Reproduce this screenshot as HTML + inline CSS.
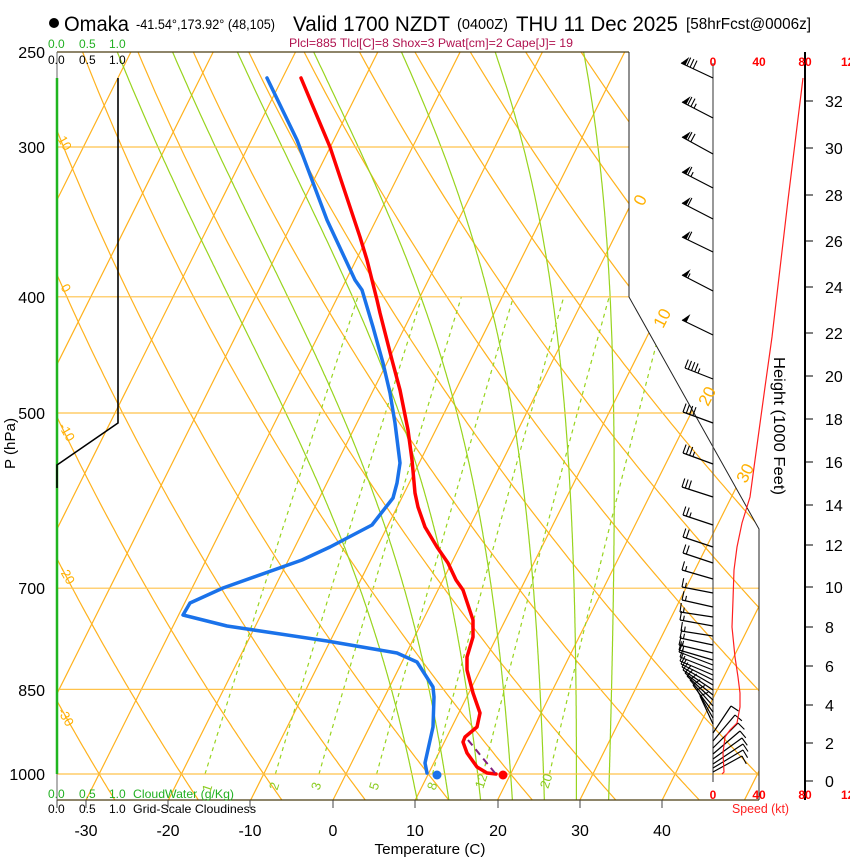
<!DOCTYPE html>
<html>
<head>
<meta charset="utf-8">
<style>
html,body{margin:0;padding:0;background:#fff;}
svg{display:block;}
text{font-family:"Liberation Sans",Arial,sans-serif;}
</style>
</head>
<body>
<svg id="s" width="850" height="860" viewBox="0 0 850 860" xmlns="http://www.w3.org/2000/svg">
<defs>
<clipPath id="c"><polygon points="57,52 629,52 629,297 759,529 759,800 57,800"/></clipPath>
</defs>
<rect width="850" height="860" fill="#fff"/>
<g id="grid" clip-path="url(#c)" fill="none"></g>

<!-- frame -->
<line x1="57" y1="52" x2="629" y2="52" stroke="#4a3c10" stroke-width="1.3"/>
<line x1="57" y1="800" x2="759" y2="800" stroke="#4a3c10" stroke-width="1.3"/>
<line x1="57" y1="52" x2="57" y2="800" stroke="#666" stroke-width="1"/>
<polyline points="629,52 629,297 759,529 759,800" fill="none" stroke="#222" stroke-width="1"/>
<line x1="713" y1="63" x2="713" y2="782" stroke="#555" stroke-width="1.2"/>
<line x1="805" y1="52" x2="805" y2="800" stroke="#000" stroke-width="2"/>

<!-- cloud water / cloudiness -->
<line x1="57" y1="78" x2="57" y2="774" stroke="#1fb51f" stroke-width="2.5"/>
<polyline points="118,78 118,423 57,465 57,488" fill="none" stroke="#000" stroke-width="1.6"/>

<!-- bottom ticks -->
<g stroke="#444" stroke-width="1">
<line x1="57" y1="800" x2="57" y2="808"/><line x1="86" y1="800" x2="86" y2="808"/>
<line x1="168" y1="800" x2="168" y2="808"/><line x1="250" y1="800" x2="250" y2="808"/>
<line x1="333" y1="800" x2="333" y2="808"/><line x1="415" y1="800" x2="415" y2="808"/>
<line x1="498" y1="800" x2="498" y2="808"/><line x1="580" y1="800" x2="580" y2="808"/>
<line x1="662" y1="800" x2="662" y2="808"/>
</g>

<!-- height ticks -->
<g stroke="#000" stroke-width="1">
<line x1="805" y1="101" x2="813" y2="101"/><line x1="805" y1="148" x2="813" y2="148"/>
<line x1="805" y1="195" x2="813" y2="195"/><line x1="805" y1="241" x2="813" y2="241"/>
<line x1="805" y1="287" x2="813" y2="287"/><line x1="805" y1="333" x2="813" y2="333"/>
<line x1="805" y1="376" x2="813" y2="376"/><line x1="805" y1="419" x2="813" y2="419"/>
<line x1="805" y1="462" x2="813" y2="462"/><line x1="805" y1="505" x2="813" y2="505"/>
<line x1="805" y1="545" x2="813" y2="545"/><line x1="805" y1="587" x2="813" y2="587"/>
<line x1="805" y1="627" x2="813" y2="627"/><line x1="805" y1="666" x2="813" y2="666"/>
<line x1="805" y1="705" x2="813" y2="705"/><line x1="805" y1="743" x2="813" y2="743"/>
<line x1="805" y1="781" x2="813" y2="781"/>
</g>

<!-- wind barbs -->
<g id="barbs"></g>

<!-- speed line -->
<polyline points="803,78 788,200 772,337 765,387 755,460 750,497 742,523 737,547 734,570 733,600 732,627 735,657 738,677 740,693 740,707 737,723 730,730 725,737 723,753 724,772 722,774" fill="none" stroke="#ff2020" stroke-width="1.2"/>

<!-- profiles -->
<polyline points="267,78 297,140 327,220 355,280 362,290 373,327 383,363 390,393 395,423 398,447 400,463 397,483 393,498 372,525 330,547 302,560 223,588 190,603 183,615 227,626 327,641 397,653 417,662 433,687 434,697 433,727 425,763 427,773" fill="none" stroke="#1a72ea" stroke-width="3.5" stroke-linejoin="round" stroke-linecap="round"/>
<polyline points="301,78 330,147 360,237 367,260 377,300 380,313 392,360 400,390 408,430 412,460 415,493 418,507 425,527 437,547 448,563 456,580 463,590 473,620 473,637 467,657 467,670 473,693 480,713 477,727 465,737 463,742 467,753 477,767 487,773 496,774" fill="none" stroke="#ff0000" stroke-width="3.5" stroke-linejoin="round" stroke-linecap="round"/>
<line x1="468" y1="740" x2="495" y2="773" stroke="#80207f" stroke-width="2" stroke-dasharray="7,5"/>
<circle cx="437" cy="775" r="4.5" fill="#1a72ea"/>
<circle cx="503" cy="775" r="4.5" fill="#ff0000"/>

<!-- title -->
<circle cx="54" cy="23" r="5" fill="#000"/>
<text x="64" y="31" font-size="21" textLength="65" lengthAdjust="spacingAndGlyphs">Omaka</text>
<text x="136" y="29" font-size="13.5" textLength="139" lengthAdjust="spacingAndGlyphs">-41.54°,173.92° (48,105)</text>
<text x="293" y="31" font-size="21" textLength="157" lengthAdjust="spacingAndGlyphs">Valid 1700 NZDT</text>
<text x="457" y="29" font-size="15" textLength="51" lengthAdjust="spacingAndGlyphs">(0400Z)</text>
<text x="516" y="31" font-size="21" textLength="162" lengthAdjust="spacingAndGlyphs">THU 11 Dec 2025</text>
<text x="686" y="29" font-size="16" textLength="125" lengthAdjust="spacingAndGlyphs">[58hrFcst@0006z]</text>
<text x="289" y="47" font-size="12" fill="#b0124f" textLength="284" lengthAdjust="spacingAndGlyphs">Plcl=885 Tlcl[C]=8 Shox=3 Pwat[cm]=2 Cape[J]= 19</text>

<!-- cloud axis labels -->
<g font-size="12" fill="#22b022">
<text x="48" y="48">0.0</text><text x="79" y="48">0.5</text><text x="109" y="48">1.0</text>
<text x="48" y="798">0.0</text><text x="79" y="798">0.5</text><text x="109" y="798">1.0</text>
<text x="133" y="798" textLength="101" lengthAdjust="spacingAndGlyphs">CloudWater (g/Kg)</text>
</g>
<g font-size="12" fill="#000">
<text x="48" y="64">0.0</text><text x="79" y="64">0.5</text><text x="109" y="64">1.0</text>
<text x="48" y="813">0.0</text><text x="79" y="813">0.5</text><text x="109" y="813">1.0</text>
<text x="133" y="813" textLength="123" lengthAdjust="spacingAndGlyphs">Grid-Scale Cloudiness</text>
</g>

<!-- pressure labels -->
<g font-size="16" text-anchor="end" fill="#000">
<text x="45" y="58">250</text><text x="45" y="153">300</text><text x="45" y="303">400</text>
<text x="45" y="419">500</text><text x="45" y="594">700</text><text x="45" y="696">850</text>
<text x="45" y="780">1000</text>
</g>
<text transform="translate(15,469) rotate(-90)" font-size="15" textLength="51" lengthAdjust="spacingAndGlyphs">P (hPa)</text>

<!-- temperature labels -->
<g font-size="16" text-anchor="middle" fill="#000">
<text x="86" y="836">-30</text><text x="168" y="836">-20</text><text x="250" y="836">-10</text>
<text x="333" y="836">0</text><text x="415" y="836">10</text><text x="498" y="836">20</text>
<text x="580" y="836">30</text><text x="662" y="836">40</text>
</g>
<text x="430" y="854" font-size="15" text-anchor="middle" textLength="111" lengthAdjust="spacingAndGlyphs">Temperature (C)</text>

<!-- height labels -->
<g font-size="16" fill="#000">
<text x="825" y="107">32</text><text x="825" y="154">30</text><text x="825" y="201">28</text>
<text x="825" y="247">26</text><text x="825" y="293">24</text><text x="825" y="339">22</text>
<text x="825" y="382">20</text><text x="825" y="425">18</text><text x="825" y="468">16</text>
<text x="825" y="511">14</text><text x="825" y="551">12</text><text x="825" y="593">10</text>
<text x="825" y="633">8</text><text x="825" y="672">6</text><text x="825" y="711">4</text>
<text x="825" y="749">2</text><text x="825" y="787">0</text>
</g>
<text transform="translate(774,357) rotate(90)" font-size="16" textLength="138" lengthAdjust="spacingAndGlyphs">Height (1000 Feet)</text>

<!-- speed labels -->
<g font-size="12" font-weight="bold" fill="#ff0000" text-anchor="middle">
<text x="713" y="66">0</text><text x="759" y="66">40</text><text x="805" y="66">80</text><text x="851" y="66">120</text>
<text x="713" y="799">0</text><text x="759" y="799">40</text><text x="805" y="799">80</text><text x="851" y="799">120</text>
</g>
<text x="732" y="813" font-size="12.5" fill="#ff2020" textLength="57" lengthAdjust="spacingAndGlyphs">Speed (kt)</text>

<!-- isotherm labels -->
<g font-size="17" fill="#ffb000" text-anchor="middle">
<text transform="translate(640,200) rotate(-63)" dy="0.35em">0</text>
<text transform="translate(662,318) rotate(-63)" dy="0.35em">10</text>
<text transform="translate(707,396) rotate(-63)" dy="0.35em">20</text>
<text transform="translate(745,473) rotate(-63)" dy="0.35em">30</text>
</g>
<!-- dry adiabat labels -->
<g font-size="13" fill="#ffb000" text-anchor="middle">
<text transform="translate(65,143) rotate(60)" dy="0.35em">10</text>
<text transform="translate(66,288) rotate(60)" dy="0.35em">0</text>
<text transform="translate(67,432) rotate(60)" dy="0.35em">-10</text>
<text transform="translate(67,575) rotate(60)" dy="0.35em">-20</text>
<text transform="translate(66,717) rotate(60)" dy="0.35em">-30</text>
</g>
<!-- mixing ratio labels -->
<g font-size="13" fill="#8ccc22" text-anchor="middle">
<text transform="translate(207,788) rotate(-72)" dy="0.35em">1</text>
<text transform="translate(274,786) rotate(-72)" dy="0.35em">2</text>
<text transform="translate(316,786) rotate(-72)" dy="0.35em">3</text>
<text transform="translate(374,786) rotate(-72)" dy="0.35em">5</text>
<text transform="translate(432,786) rotate(-72)" dy="0.35em">8</text>
<text transform="translate(481,781) rotate(-72)" dy="0.35em">12</text>
<text transform="translate(546,781) rotate(-72)" dy="0.35em">20</text>
</g>
</svg>

<script>
(function(){
var NS="http://www.w3.org/2000/svg";
var g=document.getElementById('grid');
function Y(p){return 774-520.8*Math.log(1000/p);}
function X(T,y){return 333+8.23*T+0.5*(800-y);}
function P(y){return 1000*Math.exp((y-774)/520.8);}
function path(par,pts,st,w,dash){
  var d='';
  for(var i=0;i<pts.length;i++){d+=(i?'L':'M')+pts[i][0].toFixed(1)+' '+pts[i][1].toFixed(1);}
  var e=document.createElementNS(NS,'path');
  e.setAttribute('d',d);e.setAttribute('stroke',st);e.setAttribute('stroke-width',w);e.setAttribute('fill','none');
  if(dash)e.setAttribute('stroke-dasharray',dash);
  par.appendChild(e);return e;
}
var OR='#ffb21e', GR='#98d41e';
var pb=P(802), pt=P(50);
// isotherms
for(var T=-130;T<=60;T+=10){path(g,[[X(T,802),802],[X(T,50),50]],OR,1.2);}
// dry adiabats
for(var th=-60;th<=200;th+=10){
  var pts=[];
  for(var p=pb;p>pt-5;p-=5){var pp=Math.max(p,pt);var y=Y(pp);var t=(th+273.15)*Math.pow(pp/1000,0.2857)-273.15;pts.push([X(t,y),y]);}
  path(g,pts,OR,1.2);
}
// moist adiabats
function es(t){return 6.112*Math.exp(17.67*t/(t+243.5));}
function dTdp(p,T){var Tk=T+273.15;var e=es(T);var rs=0.622*e/(p-e);var L=2.501e6;
  return (287.04*Tk+L*rs)/(1005.7+L*L*rs*0.622/(287.04*Tk*Tk))/p;}
function integ(tw,h,pend){
  var out=[];var T=tw,p=1000;
  while((h<0&&p>pend)||(h>0&&p<pend)){
    out.push([p,T]);
    var k1=dTdp(p,T),k2=dTdp(p+h/2,T+h/2*k1),k3=dTdp(p+h/2,T+h/2*k2),k4=dTdp(p+h,T+h*k3);
    T+=h/6*(k1+2*k2+2*k3+k4);p+=h;
  }
  out.push([p,T]);return out;
}
[8,12,16,20,24,28,32].forEach(function(tw){
  var up=integ(tw,-2,pt-2),dn=integ(tw,2,pb+2);
  var all=dn.reverse().concat(up.slice(1));
  var pts=all.map(function(a){var y=Y(a[0]);return [X(a[1],y),y];});
  path(g,pts,GR,1.2);
});
// mixing ratio lines
[1,2,3,5,8,12,20].forEach(function(w){
  var pts=[];
  for(var p=1000;p>=400;p-=10){var e=w*p/(622+w);var l=Math.log(e/6.112);var td=243.5*l/(17.67-l);var y=Y(p);pts.push([X(td,y),y]);}
  path(g,pts,GR,1.2,'4,4');
});
// pressure lines
[300,400,500,700,850,1000].forEach(function(p){var y=Y(p);path(g,[[57,y],[760,y]],'#ffc24a',1.2);});

// wind barbs
var bg=document.getElementById('barbs');
function ln(x1,y1,x2,y2,w){var e=document.createElementNS(NS,'line');
  e.setAttribute('x1',x1.toFixed(1));e.setAttribute('y1',y1.toFixed(1));e.setAttribute('x2',x2.toFixed(1));e.setAttribute('y2',y2.toFixed(1));
  e.setAttribute('stroke','#000');e.setAttribute('stroke-width',w||1.1);bg.appendChild(e);}
function barb(by,tx,ty,np,nf,nh){
  var bx=713,dx=tx-bx,dy=ty-by,L=Math.sqrt(dx*dx+dy*dy),ux=dx/L,uy=dy/L,nx=-uy,ny=ux;
  ln(bx,by,tx,ty,1.2);
  var s=0,i;
  for(i=0;i<np;i++){
    var ax=tx-ux*s,ay=ty-uy*s,bx2=tx-ux*(s+5),by2=ty-uy*(s+5),cx=bx2+nx*9,cy=by2+ny*9;
    var e=document.createElementNS(NS,'polygon');
    e.setAttribute('points',ax.toFixed(1)+','+ay.toFixed(1)+' '+bx2.toFixed(1)+','+by2.toFixed(1)+' '+cx.toFixed(1)+','+cy.toFixed(1));
    e.setAttribute('fill','#000');bg.appendChild(e);s+=6.5;
  }
  for(i=0;i<nf;i++){var px=tx-ux*s,py=ty-uy*s;ln(px,py,px+nx*9,py+ny*9);s+=3.5;}
  for(i=0;i<nh;i++){var qx=tx-ux*s,qy=ty-uy*s;ln(qx,qy,qx+nx*5,qy+ny*5);s+=3.5;}
}
var B=[
 [78,681,63,1,3,0],[118,682,102,1,2,1],[154,682,137,1,2,0],[188,682,172,1,1,1],
 [219,682,203,1,1,0],[252,682,237,1,1,0],[291,682,275,1,0,1],[335,682,320,1,0,0],
 [379,685,368,0,4,1],[423,683,412,0,4,0],[464,683,453,0,3,1],[497,682,487,0,3,0],
 [525,683,515,0,2,1],[547,683,537,0,2,0],[563,683,553,0,2,0],[579,682,570,0,1,1],
 [593,682,587,0,1,1],[607,682,600,0,1,1],[617,680,612,0,1,1],[626,680,620,0,1,1],
 [636,681,631,0,1,1],[645,680,638,0,1,1],[653,679,645,0,1,1],[660,679,650,0,1,1],
 [665,679,652,0,1,0],[670,680,657,0,1,0],[675,680,661,0,1,0],[680,681,664,0,1,0],
 [685,682,667,0,1,0],[690,683,670,0,1,0],[695,685,673,0,1,0],[700,687,676,0,1,0],
 [706,690,680,0,1,0],[712,693,685,0,1,0],[718,697,690,0,1,0],[724,700,696,0,1,0],
 [733,731,706,0,1,0],[741,735,715,0,1,0],[748,738,723,0,1,0],[754,740,731,0,1,0],
 [759,742,738,0,1,0],[764,743,744,0,1,0],[768,743,750,0,1,0],[772,742,756,0,1,0]
];
B.forEach(function(b){barb(b[0],b[1],b[2],b[3],b[4],b[5]);});
})();
</script>
</body>
</html>
